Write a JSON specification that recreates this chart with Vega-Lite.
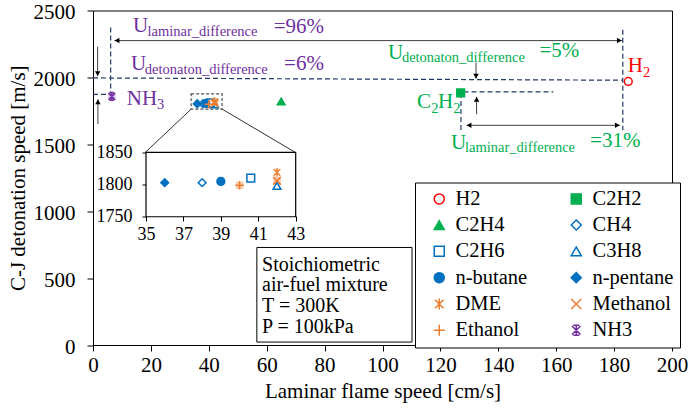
{
 "$schema":"https://vega.github.io/schema/vega-lite/v6.json",
 "width":579,"height":334.5,
 "autosize":{"type":"none"},
 "padding":{"left":93,"top":10.5,"right":23,"bottom":63},
 "background":"white",
 "config":{
   "view":{"stroke":"black","strokeWidth":1},
   "font":"Liberation Serif",
   "style":{"guide-label":{"font":"Liberation Serif","fill":"black"},"guide-title":{"font":"Liberation Serif","fill":"black"}},
   "axis":{"labelFont":"Liberation Serif","titleFont":"Liberation Serif","labelColor":"black","titleColor":"black","domainColor":"black","tickColor":"black","grid":false,"titleFontWeight":"normal","labelFontSize":21,"titleFontSize":21,"labelFlush":false,"labelOverlap":false,"domainWidth":1,"tickWidth":1,"format":"d"},
   "legend":{"labelFont":"Liberation Serif","labelFontSize":20.5,"labelColor":"black"}
 },
 "datasets":{
  "fuels":[
   {"fuel":"H2","lfs":184.9,"cj":1970},
   {"fuel":"C2H2","lfs":127.0,"cj":1884},
   {"fuel":"C2H4","lfs":65.0,"cj":1820},
   {"fuel":"CH4","lfs":38.0,"cj":1803},
   {"fuel":"C3H8","lfs":42.0,"cj":1798},
   {"fuel":"C2H6","lfs":40.6,"cj":1810},
   {"fuel":"n-butane","lfs":39.0,"cj":1805},
   {"fuel":"n-pentane","lfs":36.0,"cj":1803},
   {"fuel":"Ethanol","lfs":40.0,"cj":1799},
   {"fuel":"Methanol","lfs":42.0,"cj":1806},
   {"fuel":"DME","lfs":42.0,"cj":1819},
   {"fuel":"NH3","lfs":6.5,"cj":1858}
  ],
  "dashed":[
   {"x":0,"y":1996,"x2":182.8,"y2":1979},
   {"x":0,"y":1873,"x2":6.1,"y2":1873},
   {"x":6.1,"y":1858,"x2":6.1,"y2":2394},
   {"x":183,"y":2356,"x2":183,"y2":1605},
   {"x":128,"y":1892,"x2":159,"y2":1892},
   {"x":127.1,"y":1884,"x2":127.1,"y2":1600}
  ],
  "arrows":[
   {"x":7.4,"y":2275,"x2":182.7,"y2":2275},
   {"x":1.6,"y":2230,"x2":1.6,"y2":2010},
   {"x":1.7,"y":1652,"x2":1.7,"y2":1836},
   {"x":132.3,"y":2110,"x2":132.3,"y2":1990},
   {"x":132.5,"y":1725,"x2":132.5,"y2":1855},
   {"x":129,"y":1642,"x2":182,"y2":1642}
  ],
  "heads":[
   {"dir":"left","x":8.3,"y":2275},
   {"dir":"right","x":181.8,"y":2275},
   {"dir":"down","x":1.6,"y":2029},
   {"dir":"up","x":1.7,"y":1817},
   {"dir":"down","x":132.3,"y":2009},
   {"dir":"up","x":132.5,"y":1836},
   {"dir":"left","x":129.9,"y":1642},
   {"dir":"right","x":181.1,"y":1642}
  ],
  "connectors":[
   {"x":33.9,"y":1763,"x2":18.0,"y2":1438},
   {"x":44.6,"y":1763,"x2":70.0,"y2":1438}
  ],
  "zoombox":[{"x":33.9,"x2":44.6,"y":1763,"y2":1877}],
  "notebox":[{"x":56.6,"x2":110.2,"y":22,"y2":729}],
  "notes":[
   {"t":"Stoichiometric","x":58.4,"y":595},
   {"t":"air-fuel mixture","x":58.4,"y":446},
   {"t":"T = 300K","x":58.4,"y":290},
   {"t":"P = 100kPa","x":58.4,"y":134}
  ],
  "bigtext":[
   {"t":"U","x":13.8,"y":2381,"ref":"NH3"},
   {"t":"=96%","x":62.4,"y":2374,"ref":"NH3"},
   {"t":"U","x":13.1,"y":2102,"ref":"NH3"},
   {"t":"=6%","x":66.0,"y":2098,"ref":"NH3"},
   {"t":"NH","x":11.7,"y":1838,"ref":"NH3"},
   {"t":"U","x":101.9,"y":2180,"ref":"C2H2"},
   {"t":"=5%","x":154.2,"y":2195,"ref":"C2H2"},
   {"t":"C","x":111.9,"y":1815,"ref":"C2H2"},
   {"t":"H","x":119.2,"y":1815,"ref":"C2H2"},
   {"t":"U","x":123.7,"y":1510,"ref":"C2H2"},
   {"t":"=31%","x":171.7,"y":1525,"ref":"C2H2"},
   {"t":"H","x":184.7,"y":2083,"ref":"H2"}
  ],
  "subtext":[
   {"t":"laminar_difference","x":18.8,"y":2336,"ref":"NH3"},
   {"t":"detonaton_difference","x":17.9,"y":2054,"ref":"NH3"},
   {"t":"3","x":22.1,"y":1793,"ref":"NH3"},
   {"t":"detonaton_difference","x":106.7,"y":2143,"ref":"C2H2"},
   {"t":"2","x":116.8,"y":1763,"ref":"C2H2"},
   {"t":"2","x":124.4,"y":1763,"ref":"C2H2"},
   {"t":"laminar_difference","x":128.5,"y":1473,"ref":"C2H2"},
   {"t":"2","x":190.0,"y":2031,"ref":"H2"}
  ],
  "insetframe":[{"x":35,"x2":43,"y":1750,"y2":1850}]
 },
 "layer":[
  {"layer":[
   {"data":{"name":"dashed"},
    "mark":{"type":"rule","color":"#1F3864","strokeDash":[5,3],"strokeWidth":1.2},
    "encoding":{
     "x":{"field":"x","type":"quantitative","scale":{"domain":[0,200],"nice":false,"zero":false},"title":"Laminar flame speed [cm/s]",
          "axis":{"values":[0,20,40,60,80,100,120,140,160,180,200],"format":"d","tickSize":6,"labelPadding":3,"titlePadding":5,"labelFont":"Liberation Serif","titleFont":"Liberation Serif"}},
     "y":{"field":"y","type":"quantitative","scale":{"domain":[0,2500],"nice":false,"zero":false},"title":"C-J detonation speed [m/s]",
          "axis":{"values":[0,500,1000,1500,2000,2500],"format":"d","tickSize":6,"labelPadding":12,"labelOffset":2,"titlePadding":5,"labelFont":"Liberation Serif","titleFont":"Liberation Serif"}},
     "x2":{"field":"x2"},"y2":{"field":"y2"}}},
   {"data":{"name":"arrows"},
    "mark":{"type":"rule","color":"#404040","strokeWidth":1},
    "encoding":{
     "x":{"field":"x","type":"quantitative","scale":{"domain":[0,200],"nice":false,"zero":false},"title":"Laminar flame speed [cm/s]"},
     "y":{"field":"y","type":"quantitative","scale":{"domain":[0,2500],"nice":false,"zero":false},"title":"C-J detonation speed [m/s]"},
     "x2":{"field":"x2"},"y2":{"field":"y2"}}},
   {"data":{"name":"heads"},"transform":[{"filter":"datum.dir==='left'"}],
    "mark":{"type":"point","shape":"triangle-left","filled":true,"color":"black","size":30,"opacity":1},
    "encoding":{
     "x":{"field":"x","type":"quantitative","scale":{"domain":[0,200],"nice":false,"zero":false},"title":"Laminar flame speed [cm/s]"},
     "y":{"field":"y","type":"quantitative","scale":{"domain":[0,2500],"nice":false,"zero":false},"title":"C-J detonation speed [m/s]"}}},
   {"data":{"name":"heads"},"transform":[{"filter":"datum.dir==='right'"}],
    "mark":{"type":"point","shape":"triangle-right","filled":true,"color":"black","size":30,"opacity":1},
    "encoding":{
     "x":{"field":"x","type":"quantitative","scale":{"domain":[0,200],"nice":false,"zero":false},"title":"Laminar flame speed [cm/s]"},
     "y":{"field":"y","type":"quantitative","scale":{"domain":[0,2500],"nice":false,"zero":false},"title":"C-J detonation speed [m/s]"}}},
   {"data":{"name":"heads"},"transform":[{"filter":"datum.dir==='up'"}],
    "mark":{"type":"point","shape":"triangle-up","filled":true,"color":"black","size":30,"opacity":1},
    "encoding":{
     "x":{"field":"x","type":"quantitative","scale":{"domain":[0,200],"nice":false,"zero":false},"title":"Laminar flame speed [cm/s]"},
     "y":{"field":"y","type":"quantitative","scale":{"domain":[0,2500],"nice":false,"zero":false},"title":"C-J detonation speed [m/s]"}}},
   {"data":{"name":"heads"},"transform":[{"filter":"datum.dir==='down'"}],
    "mark":{"type":"point","shape":"triangle-down","filled":true,"color":"black","size":30,"opacity":1},
    "encoding":{
     "x":{"field":"x","type":"quantitative","scale":{"domain":[0,200],"nice":false,"zero":false},"title":"Laminar flame speed [cm/s]"},
     "y":{"field":"y","type":"quantitative","scale":{"domain":[0,2500],"nice":false,"zero":false},"title":"C-J detonation speed [m/s]"}}},
   {"data":{"name":"connectors"},
    "mark":{"type":"rule","color":"#303030","strokeWidth":1},
    "encoding":{
     "x":{"field":"x","type":"quantitative","scale":{"domain":[0,200],"nice":false,"zero":false},"title":"Laminar flame speed [cm/s]"},
     "y":{"field":"y","type":"quantitative","scale":{"domain":[0,2500],"nice":false,"zero":false},"title":"C-J detonation speed [m/s]"},
     "x2":{"field":"x2"},"y2":{"field":"y2"}}},
   {"data":{"name":"zoombox"},
    "mark":{"type":"rect","fillOpacity":0,"stroke":"#505050","strokeDash":[3,2],"strokeWidth":1.2},
    "encoding":{
     "x":{"field":"x","type":"quantitative","scale":{"domain":[0,200],"nice":false,"zero":false},"title":"Laminar flame speed [cm/s]"},
     "y":{"field":"y","type":"quantitative","scale":{"domain":[0,2500],"nice":false,"zero":false},"title":"C-J detonation speed [m/s]"},
     "x2":{"field":"x2"},"y2":{"field":"y2"}}},
   {"data":{"name":"notebox"},
    "mark":{"type":"rect","fill":"white","stroke":"black","strokeWidth":1},
    "encoding":{
     "x":{"field":"x","type":"quantitative","scale":{"domain":[0,200],"nice":false,"zero":false},"title":"Laminar flame speed [cm/s]"},
     "y":{"field":"y","type":"quantitative","scale":{"domain":[0,2500],"nice":false,"zero":false},"title":"C-J detonation speed [m/s]"},
     "x2":{"field":"x2"},"y2":{"field":"y2"}}},
   {"data":{"name":"notes"},
    "mark":{"type":"text","align":"left","baseline":"middle","font":"Liberation Serif","fontSize":20,"color":"black"},
    "encoding":{
     "x":{"field":"x","type":"quantitative","scale":{"domain":[0,200],"nice":false,"zero":false},"title":"Laminar flame speed [cm/s]"},
     "y":{"field":"y","type":"quantitative","scale":{"domain":[0,2500],"nice":false,"zero":false},"title":"C-J detonation speed [m/s]"},
     "text":{"field":"t"}}},
   {"data":{"name":"bigtext"},
    "mark":{"type":"text","align":"left","baseline":"middle","font":"Liberation Serif","fontSize":21},
    "encoding":{
     "x":{"field":"x","type":"quantitative","scale":{"domain":[0,200],"nice":false,"zero":false},"title":"Laminar flame speed [cm/s]"},
     "y":{"field":"y","type":"quantitative","scale":{"domain":[0,2500],"nice":false,"zero":false},"title":"C-J detonation speed [m/s]"},
     "text":{"field":"t"},
     "color":{"field":"ref","type":"nominal","scale":{"domain":["NH3","C2H2","H2"],"range":["#7030A0","#00B050","#FF0000"]},"legend":null}}},
   {"data":{"name":"subtext"},
    "mark":{"type":"text","align":"left","baseline":"middle","font":"Liberation Serif","fontSize":14.5},
    "encoding":{
     "x":{"field":"x","type":"quantitative","scale":{"domain":[0,200],"nice":false,"zero":false},"title":"Laminar flame speed [cm/s]"},
     "y":{"field":"y","type":"quantitative","scale":{"domain":[0,2500],"nice":false,"zero":false},"title":"C-J detonation speed [m/s]"},
     "text":{"field":"t"},
     "color":{"field":"ref","type":"nominal","scale":{"domain":["NH3","C2H2","H2"],"range":["#7030A0","#00B050","#FF0000"]},"legend":null}}},
   {"data":{"name":"fuels"},"transform":[{"filter":{"field":"fuel","oneOf":["Methanol","Ethanol"]}}],
    "mark":{"type":"point","shape":"square","filled":true,"color":"#F8CBAD","size":55,"opacity":1},
    "encoding":{
     "x":{"field":"lfs","type":"quantitative","scale":{"domain":[0,200],"nice":false,"zero":false},"title":"Laminar flame speed [cm/s]"},
     "y":{"field":"cj","type":"quantitative","scale":{"domain":[0,2500],"nice":false,"zero":false},"title":"C-J detonation speed [m/s]"}}},
   {"data":{"name":"fuels"},"transform":[{"filter":{"field":"fuel","oneOf":["NH3"]}}],
    "mark":{"type":"point","shape":"square","filled":true,"color":"#DCC6EE","size":55,"opacity":1},
    "encoding":{
     "x":{"field":"lfs","type":"quantitative","scale":{"domain":[0,200],"nice":false,"zero":false},"title":"Laminar flame speed [cm/s]"},
     "y":{"field":"cj","type":"quantitative","scale":{"domain":[0,2500],"nice":false,"zero":false},"title":"C-J detonation speed [m/s]"}}},
   {"data":{"name":"fuels"},
    "mark":{"type":"point","strokeWidth":1.5,"opacity":1,"size":60},
    "encoding":{
     "x":{"field":"lfs","type":"quantitative","scale":{"domain":[0,200],"nice":false,"zero":false},"title":"Laminar flame speed [cm/s]"},
     "y":{"field":"cj","type":"quantitative","scale":{"domain":[0,2500],"nice":false,"zero":false},"title":"C-J detonation speed [m/s]"},
     "shape":{"field":"fuel","type":"nominal","title":null,
      "scale":{"domain":["H2","C2H4","C2H6","n-butane","DME","Ethanol","C2H2","CH4","C3H8","n-pentane","Methanol","NH3"],
               "range":["circle","triangle-up","square","circle",
                        "M-0.85,-0.85L0.85,0.85M0.85,-0.85L-0.85,0.85M0,-1.1L0,1.1",
                        "M0,-1.1L0,1.1M-1.1,0L1.1,0",
                        "square","diamond","triangle-up","diamond",
                        "M-1,-1L1,1M1,-1L-1,1",
                        "M-0.85,-0.85L0.85,0.85M0.85,-0.85L-0.85,0.85M0,-1L0,1M-0.6,-1L0.6,-1M-0.6,1L0.6,1"]},
      "legend":{"orient":"none","legendX":322,"legendY":172,"columns":2,"title":null,"strokeColor":"black","fillColor":"white","padding":6,"symbolOffset":8,"rowPadding":5.3,"columnPadding":30,"symbolSize":100,"symbolStrokeWidth":1.5,"labelOffset":6,"labelFontSize":20.5,"labelFont":"Liberation Serif"}},
     "stroke":{"field":"fuel","type":"nominal","title":null,
      "scale":{"domain":["H2","C2H4","C2H6","n-butane","DME","Ethanol","C2H2","CH4","C3H8","n-pentane","Methanol","NH3"],
               "range":["#FF0000","#00B050","#0070C0","#0070C0","#ED7D31","#ED7D31","#00B050","#0070C0","#0070C0","#0070C0","#ED7D31","#7030A0"]},
      "legend":{"orient":"none","legendX":322,"legendY":172,"columns":2,"title":null,"strokeColor":"black","fillColor":"white","padding":6,"symbolOffset":8,"rowPadding":5.3,"columnPadding":30,"symbolSize":100,"symbolStrokeWidth":1.5,"labelOffset":6,"labelFontSize":20.5,"labelFont":"Liberation Serif"}},
     "fill":{"field":"fuel","type":"nominal","title":null,
      "scale":{"domain":["H2","C2H4","C2H6","n-butane","DME","Ethanol","C2H2","CH4","C3H8","n-pentane","Methanol","NH3"],
               "range":["white","#00B050","white","#0070C0","transparent","transparent","#00B050","white","white","#0070C0","transparent","transparent"]},
      "legend":{"orient":"none","legendX":322,"legendY":172,"columns":2,"title":null,"strokeColor":"black","fillColor":"white","padding":6,"symbolOffset":8,"rowPadding":5.3,"columnPadding":30,"symbolSize":100,"symbolStrokeWidth":1.5,"labelOffset":6,"labelFontSize":20.5,"labelFont":"Liberation Serif"}}}}
  ]},
  {"layer":[
   {"data":{"name":"insetframe"},
    "mark":{"type":"rect","fill":"white","stroke":"black","strokeWidth":1.2},
    "encoding":{
     "x":{"field":"x","type":"quantitative","scale":{"domain":[32.167,63.113],"nice":false,"zero":false},"title":null,
          "axis":{"orient":"bottom","offset":-129,"values":[35,37,39,41,43],"format":"d","domain":false,"tickSize":5,"labelFontSize":18,"labelPadding":4,"title":null,"labelFont":"Liberation Serif"}},
     "y":{"field":"y","type":"quantitative","scale":{"domain":[1550.6,2070.7],"nice":false,"zero":false},"title":null,
          "axis":{"orient":"left","offset":-53,"values":[1750,1800,1850],"format":"d","domain":false,"tickSize":4,"labelFontSize":18,"labelPadding":10,"title":null,"labelFont":"Liberation Serif"}},
     "x2":{"field":"x2"},"y2":{"field":"y2"}}},
   {"data":{"name":"fuels"},"transform":[{"filter":{"field":"fuel","oneOf":["Methanol","Ethanol"]}}],
    "mark":{"type":"point","shape":"square","filled":true,"color":"#F8CBAD","size":55,"opacity":1},
    "encoding":{
     "x":{"field":"lfs","type":"quantitative","scale":{"domain":[32.167,63.113],"nice":false,"zero":false},"title":null},
     "y":{"field":"cj","type":"quantitative","scale":{"domain":[1550.6,2070.7],"nice":false,"zero":false},"title":null}}},
   {"data":{"name":"fuels"},"transform":[{"filter":{"field":"fuel","oneOf":["CH4","C2H6","C3H8","n-butane","n-pentane","DME","Methanol","Ethanol"]}}],
    "mark":{"type":"point","strokeWidth":1.5,"opacity":1,"size":60},
    "encoding":{
     "x":{"field":"lfs","type":"quantitative","scale":{"domain":[32.167,63.113],"nice":false,"zero":false},"title":null},
     "y":{"field":"cj","type":"quantitative","scale":{"domain":[1550.6,2070.7],"nice":false,"zero":false},"title":null},
     "shape":{"field":"fuel","type":"nominal","title":null},
     "stroke":{"field":"fuel","type":"nominal","title":null},
     "fill":{"field":"fuel","type":"nominal","title":null}}}
  ]}
 ],
 "resolve":{"scale":{"x":"independent","y":"independent"},"axis":{"x":"independent","y":"independent"}}
}
